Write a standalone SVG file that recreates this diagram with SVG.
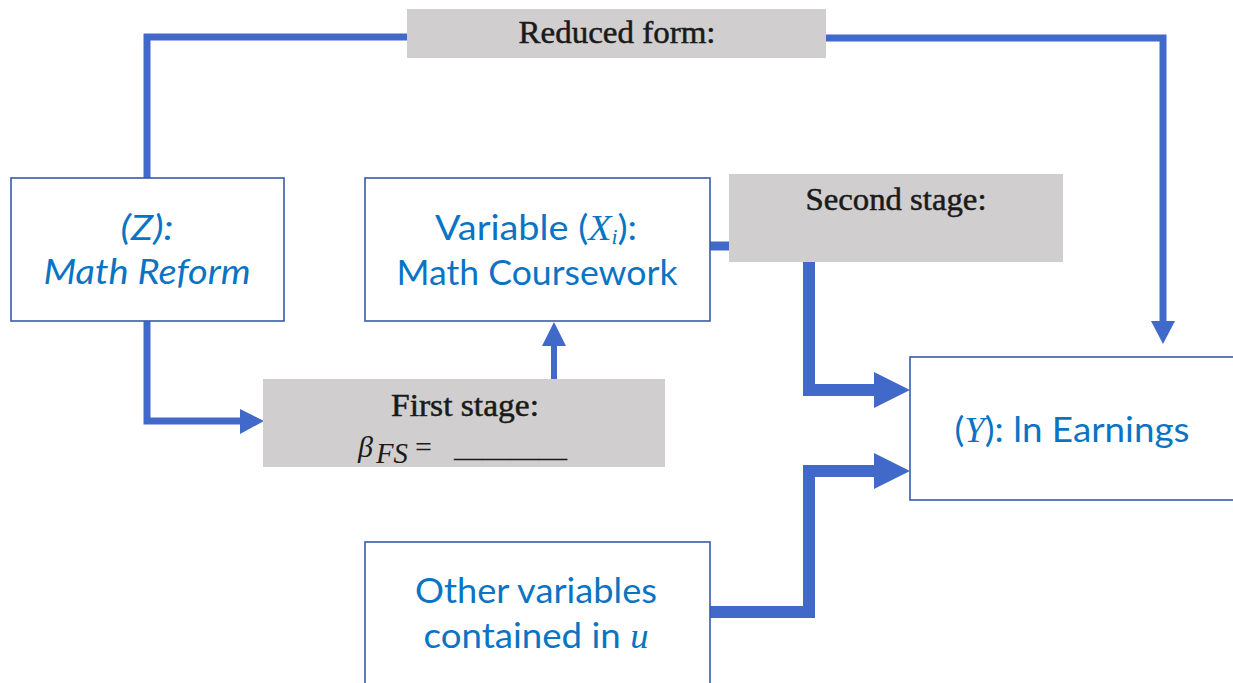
<svg xmlns="http://www.w3.org/2000/svg" width="1233" height="683" viewBox="0 0 1233 683">
  <style>
    .node { fill: #ffffff; stroke: #3a5aa8; stroke-width: 1.6; }
    .label { fill: #d0cece; }
    .wire { fill: none; stroke: #4169c9; stroke-linejoin: miter; }
    .head { fill: #4169c9; }
    .blue { font-family: Lato, "Open Sans", sans-serif; font-size: 35px; fill: #0a74c4; text-anchor: middle; }
    .math { font-family: "Liberation Serif", serif; font-style: italic; }
    .serif { font-family: "Liberation Serif", serif; font-size: 31px; fill: #1a1a1a; stroke: #1a1a1a; stroke-width: 0.5; text-anchor: middle; }
    .eq { font-family: "Liberation Serif", serif; font-size: 30px; fill: #1a1a1a; }
  </style>

  <!-- connectors -->
  <g id="connectors">
    <!-- reduced form: Z up, across, down into Y -->
    <polyline class="wire" stroke-width="7" points="147,178 147,37 408,37"/>
    <polyline class="wire" stroke-width="7" points="826,38 1163,38 1163,322"/>
    <polygon class="head" points="1151,321 1175,321 1163,344"/>
    <!-- first stage: Z down and into first-stage box -->
    <polyline class="wire" stroke-width="7" points="147,321 147,421 242,421"/>
    <polygon class="head" points="240,409 264,421 240,434"/>
    <!-- first stage up into X -->
    <line class="wire" stroke-width="6" x1="554" y1="379" x2="554" y2="344"/>
    <polygon class="head" points="542,346 566,346 554,322"/>
    <!-- X into second stage -->
    <line class="wire" stroke-width="9" x1="710" y1="246" x2="730" y2="246"/>
    <!-- second stage down into Y -->
    <polyline class="wire" stroke-width="12" points="809,262 809,390 876,390"/>
    <polygon class="head" points="874,372 910,390 874,408"/>
    <!-- other variables into Y -->
    <polyline class="wire" stroke-width="12" points="710,612 809,612 809,471 876,471"/>
    <polygon class="head" points="874,453 910,471 874,489"/>
  </g>

  <!-- (Z): Math Reform -->
  <g id="node-z">
    <rect class="node" x="11" y="178" width="273" height="143"/>
    <text class="blue" x="147" y="240" font-style="italic" textLength="53" lengthAdjust="spacingAndGlyphs">(Z):</text>
    <text class="blue" x="147" y="284" font-style="italic" textLength="207" lengthAdjust="spacingAndGlyphs">Math Reform</text>
  </g>

  <!-- Variable (X_i): Math Coursework -->
  <g id="node-x">
    <rect class="node" x="365" y="178" width="345" height="143"/>
    <text class="blue" x="536" y="240" textLength="202" lengthAdjust="spacingAndGlyphs">Variable (<tspan class="math">X</tspan><tspan class="math" font-size="20" dy="4">i</tspan><tspan dy="-4">):</tspan></text>
    <text class="blue" x="537" y="285" textLength="281" lengthAdjust="spacingAndGlyphs">Math Coursework</text>
  </g>

  <!-- (Y): ln Earnings -->
  <g id="node-y">
    <rect class="node" x="910" y="357" width="340" height="143"/>
    <text class="blue" x="1072" y="442" textLength="235" lengthAdjust="spacingAndGlyphs">(<tspan class="math">Y</tspan>): ln Earnings</text>
  </g>

  <!-- Other variables contained in u -->
  <g id="node-u">
    <rect class="node" x="365" y="542" width="345" height="160"/>
    <text class="blue" x="536" y="603" textLength="242" lengthAdjust="spacingAndGlyphs">Other variables</text>
    <text class="blue" x="536" y="648" textLength="225" lengthAdjust="spacingAndGlyphs">contained in <tspan class="math">u</tspan></text>
  </g>

  <!-- Reduced form label -->
  <g id="label-reduced">
    <rect class="label" x="407" y="9" width="419" height="49"/>
    <text class="serif" x="617" y="43" textLength="197" lengthAdjust="spacingAndGlyphs">Reduced form:</text>
  </g>

  <!-- Second stage label -->
  <g id="label-second">
    <rect class="label" x="729" y="174" width="334" height="88"/>
    <text class="serif" x="896" y="210" textLength="181" lengthAdjust="spacingAndGlyphs">Second stage:</text>
  </g>

  <!-- First stage label -->
  <g id="label-first">
    <rect class="label" x="263" y="379" width="402" height="88"/>
    <text class="serif" x="465" y="416" textLength="148" lengthAdjust="spacingAndGlyphs">First stage:</text>
    <text class="eq" x="358" y="457" font-style="italic" font-size="32">β</text>
    <text class="eq" x="376" y="463" font-style="italic" font-size="22" textLength="32" lengthAdjust="spacingAndGlyphs">FS</text>
    <text class="eq" x="415" y="457" font-size="34">=</text>
    <text class="eq" x="454" y="457" textLength="113" lengthAdjust="spacingAndGlyphs">________</text>
  </g>
</svg>
